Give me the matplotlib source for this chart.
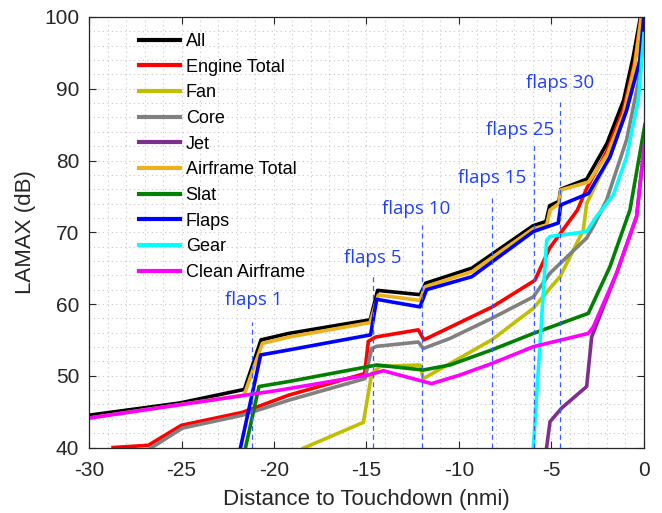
import matplotlib
matplotlib.use("Agg")
import matplotlib.pyplot as plt
from matplotlib.ticker import MultipleLocator

plt.rcParams["font.family"] = ["Liberation Sans", "DejaVu Sans"]
plt.rcParams["axes.unicode_minus"] = False

# series (distance nmi, LAMAX dB)
all_x = [-30, -25.1, -21.6, -20.7, -19.2, -14.8, -14.4, -12.1, -11.8, -9.3, -6.0, -5.3,
         -5.1, -4.6, -4.5, -3.1, -2.0, -1.1, -0.58, -0.22, -0.1]
all_y = [44.5, 46.2, 48.1, 55.0, 55.9, 57.8, 61.9, 61.3, 62.9, 65.0, 70.9, 71.5,
         73.7, 74.3, 76.0, 77.4, 82.4, 88.4, 94.5, 99.6, 101.5]

engine_x = [-28.7, -26.8, -25.0, -21.7, -19.2, -15.1, -14.9, -14.5, -12.2, -11.9, -8.2,
            -5.9, -5.35, -5.1, -3.6, -3.1, -2.0, -1.1, -0.5, -0.1]
engine_y = [40.0, 40.3, 43.1, 44.9, 47.3, 50.3, 54.8, 55.4, 56.4, 55.0, 59.6,
            63.3, 66.4, 67.8, 73.1, 76.1, 81.3, 87.2, 93.8, 101]

fan_x = [-18.42, -15.17, -14.72, -14.27, -12.11, -11.93, -10.49, -8.23, -5.98, -5.08, -4.54,
         -3.28, -3.1, -2.4, -1.84, -0.94, -0.22, 0]
fan_y = [39.9, 43.5, 50.3, 51.3, 51.5, 49.6, 51.7, 55.0, 59.4, 62.2, 63.8,
         70.3, 74.0, 77.7, 80.5, 87.0, 94.0, 100.5]

core_x = [-26.67, -24.95, -21.71, -19.19, -15.08, -14.72, -14.45, -12.2, -11.93, -10.49,
          -8.23, -5.98, -5.08, -3.1, -2.7, -2.02, -0.94, -0.31, -0.05]
core_y = [39.9, 42.7, 44.5, 46.6, 49.6, 53.8, 54.1, 54.7, 53.8, 55.2,
          58.0, 61.0, 64.3, 69.2, 71.0, 74.5, 82.9, 90.8, 100.5]

jet_x = [-5.26, -5.08, -4.45, -3.1, -2.83, -1.48, -0.4, 0.05]
jet_y = [40.1, 43.6, 45.5, 48.5, 55.4, 64.3, 72.2, 82.9]

airframe_x = [-30, -21.62, -20.63, -19.19, -14.81, -14.36, -12.11, -11.84, -9.31,
              -5.98, -5.26, -5.08, -4.6, -4.5, -3.0, -2.0, -1.1, -0.5, -0.2, -0.1]
airframe_y = [44.1, 47.3, 54.5, 55.4, 57.4, 61.25, 60.5, 62.4, 64.5,
              70.5, 71.0, 73.1, 74.0, 75.9, 77.0, 80.8, 86.5, 93.3, 99.0, 101]

slat_x = [-21.53, -20.81, -19.19, -14.45, -11.93, -10.49, -8.23, -5.98, -3.01, -1.84, -0.76, 0.05]
slat_y = [40.1, 48.5, 49.2, 51.5, 50.8, 51.5, 53.6, 55.9, 58.7, 65.2, 73.1, 85.0]

flaps_x = [-21.8, -20.72, -19.19, -14.78, -14.45, -12.11, -11.75, -9.31, -5.98, -4.63, -4.5,
           -3.0, -1.84, -0.94, -0.22, 0]
flaps_y = [40.1, 52.9, 53.6, 55.7, 60.65, 59.6, 62.0, 63.8, 70.1, 71.3, 73.8,
           75.4, 80.5, 87.0, 94.0, 100.5]

gear_x = [-5.98, -5.26, -5.08, -3.1, -2.56, -1.66, -0.94, -0.31, 0]
gear_y = [40.1, 68.9, 69.4, 70.1, 72.2, 75.2, 80.5, 88.4, 97.7]

clean_x = [-30, -19.68, -14.9, -14.09, -11.48, -9.95, -8.23, -5.98, -3.01, -2.74, -1.48, -0.4, 0.05]
clean_y = [44.1, 48.0, 50.1, 50.7, 48.9, 50.1, 51.7, 54.05, 55.9, 56.8, 64.3, 72.2, 82.9]

series = [
    ("All", all_x, all_y, "#000000"),
    ("Engine Total", engine_x, engine_y, "#ff0000"),
    ("Fan", fan_x, fan_y, "#bfbf00"),
    ("Core", core_x, core_y, "#808080"),
    ("Jet", jet_x, jet_y, "#7e2f8e"),
    ("Airframe Total", airframe_x, airframe_y, "#edb120"),
    ("Slat", slat_x, slat_y, "#008000"),
    ("Flaps", flaps_x, flaps_y, "#0000ff"),
    ("Gear", gear_x, gear_y, "#00ffff"),
    ("Clean Airframe", clean_x, clean_y, "#ff00ff"),
]

# flap settings: label, line x, line top, label x, label y
flap_names = ["flaps 1", "flaps 5", "flaps 10", "flaps 15", "flaps 25", "flaps 30"]
flap_x = [-21.17, -14.63, -12.02, -8.23, -5.95, -4.54]
flap_top = [57.5, 64.3, 71.0, 74.8, 82.4, 88.2]
flap_label_x = [-21.1, -14.65, -12.3, -8.23, -6.7, -4.54]
flap_label_y = [60.6, 66.4, 73.2, 77.6, 84.3, 90.8]

fig = plt.figure(figsize=(6.62, 5.13), dpi=100)
ax = fig.add_axes([89 / 662, 1 - 447.5 / 513, 555 / 662, 430.5 / 513])

for name, xs, ys, c in series:
    ax.plot(xs, ys, color=c, lw=2.6, label=name, solid_joinstyle="round")

for x, top in zip(flap_x, flap_top):
    ax.plot([x, x], [40, top], color="#3b5bff", lw=0.9, ls=(0, (4, 3)))
for name, lx, ly in zip(flap_names, flap_label_x, flap_label_y):
    ax.text(lx, ly, name, color="#1f3fff", fontsize=13.5, family=["Open Sans", "DejaVu Sans"],
            ha="center", va="center")

ax.set_xlim(-30, 0)
ax.set_ylim(40, 100)
ax.xaxis.set_major_locator(MultipleLocator(5))
ax.xaxis.set_minor_locator(MultipleLocator(1))
ax.yaxis.set_major_locator(MultipleLocator(10))
ax.yaxis.set_minor_locator(MultipleLocator(2))
ax.grid(which="both", color="#c8c8c8", ls=(0, (1, 3)), lw=0.8)
ax.tick_params(which="major", direction="in", top=True, right=True, length=5,
               labelsize=15, colors="#262626", width=0.8)
ax.tick_params(axis="x", which="major", pad=10)
ax.tick_params(axis="y", which="major", pad=7)
ax.tick_params(which="minor", length=0)
for s in ax.spines.values():
    s.set_color("#262626")
    s.set_linewidth(0.9)

ax.set_xlabel("Distance to Touchdown (nmi)", fontsize=16, color="#262626", labelpad=6)
ax.set_ylabel("LAMAX (dB)", fontsize=16, color="#262626", labelpad=6)

leg = ax.legend(loc="upper left", bbox_to_anchor=(0.07, 0.988), frameon=False, fontsize=13,
                handlelength=2.3, handletextpad=0.3, labelspacing=0.48, borderaxespad=0.2)
for line in leg.get_lines():
    line.set_linewidth(3)

fig.savefig("out.png", dpi=100)
